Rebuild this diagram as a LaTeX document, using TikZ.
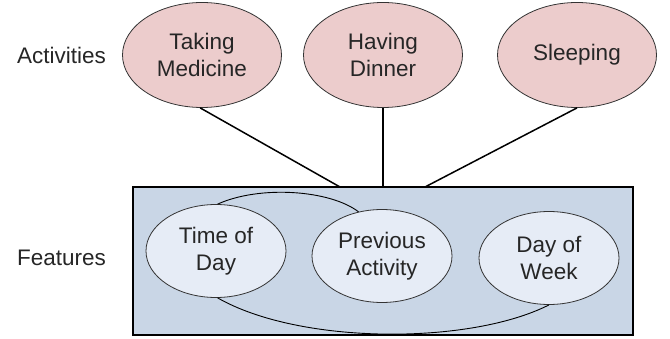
\documentclass[tikz,border=0pt]{standalone}
\usepackage{fontspec}
\setmainfont{Liberation Sans}
\usetikzlibrary{shapes.geometric}
\definecolor{actfill}{RGB}{236,204,204}
\definecolor{boxfill}{RGB}{201,214,230}
\definecolor{featfill}{RGB}{230,236,246}
\begin{document}
\begin{tikzpicture}[x=1pt,y=-1pt,
  every node/.style={font=\fontsize{22.5}{27}\selectfont, align=center, text=black!85},
  activity/.style={ellipse, draw=black!80, line width=0.8pt, fill=actfill, minimum width=159pt, minimum height=105pt, inner sep=0pt},
  feature/.style={ellipse, draw=black!80, line width=0.8pt, fill=featfill, minimum width=140pt, minimum height=93pt, inner sep=0pt},
  link/.style={line width=1.5pt},
  dep/.style={line width=0.9pt}]
  \useasboundingbox (0,0) rectangle (670,339);
  % feature panel
  \node[draw, line width=1.2pt, fill=boxfill, minimum width=500pt, minimum height=148pt, inner sep=0pt] (panel) at (383,261) {};
  % activities
  \node[activity] (med) at (202,55) {Taking\\Medicine};
  \node[activity] (din) at (383,55) {Having\\Dinner};
  \node[activity] (slp) at (577,55) {Sleeping};
  % features
  \node[feature] (tod) at (216,251) {Time of\\Day};
  \node[feature] (prev) at (382,256) {Previous\\Activity};
  \node[feature] (dow) at (549,258) {Day of\\Week};
  % row labels
  \node (lact) at (61.5,55) {Activities};
  \node (lfeat) at (61.5,258) {Features};
  % activity to feature panel links
  \draw[link] (med.-92) -- (340,187);
  \draw[link] (din.south) -- (383,187);
  \draw[link] (slp.-90) -- (425,187);
  % dependencies between features
  \draw[dep] (tod.88) .. controls (260,185) and (330,190) .. (prev.118);
  \draw[dep] (tod.-88) .. controls (300,345) and (470,345) .. (dow.-90);
\end{tikzpicture}
\end{document}
